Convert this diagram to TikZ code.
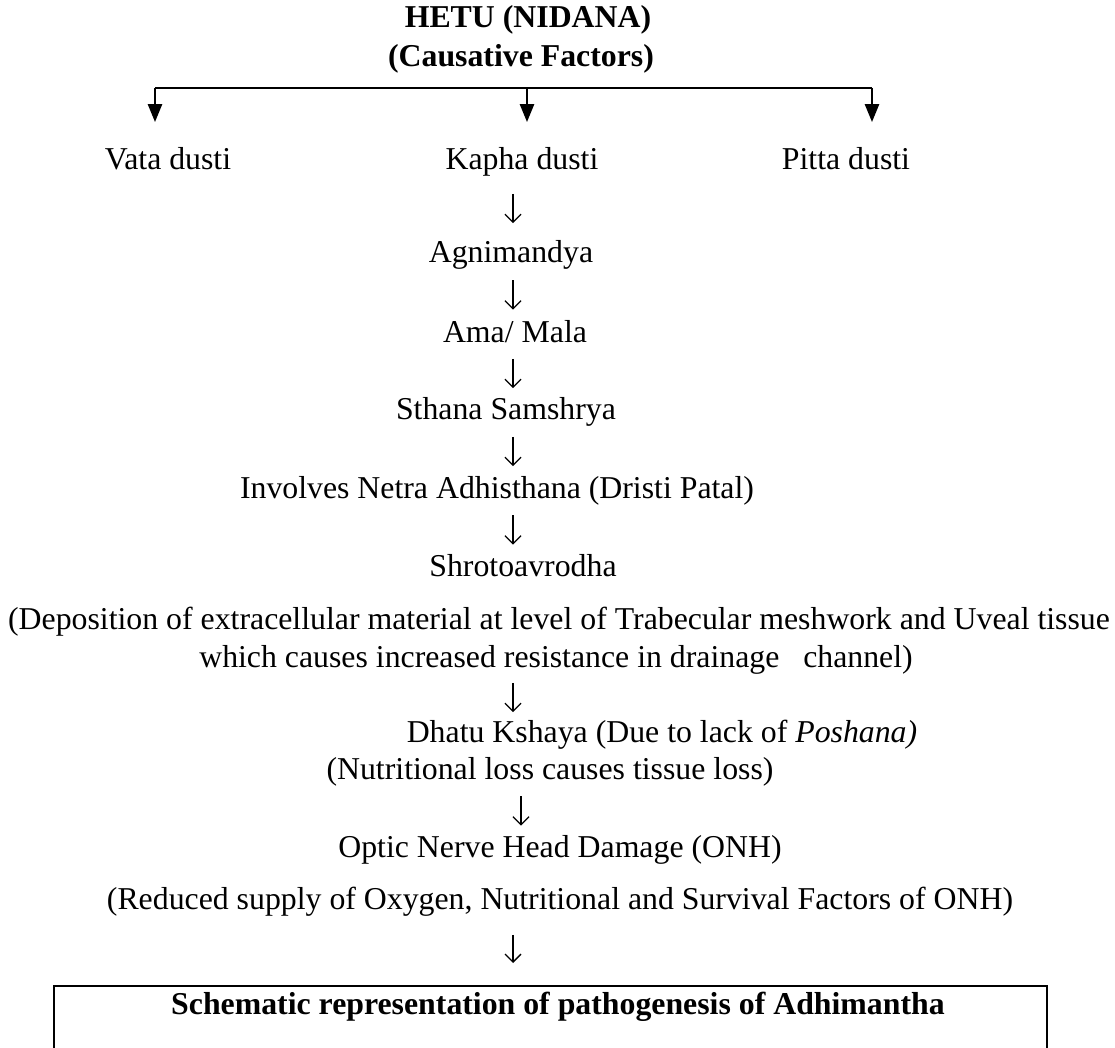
\documentclass[tikz,border=0pt]{standalone}
\usepackage{fontspec}
\setmainfont{Liberation Serif}
\usetikzlibrary{arrows.meta}
\tikzset{
  txt/.style={inner sep=0pt, text height=11pt, text depth=3.5pt, font=\fontsize{15.9}{19}\selectfont},
  btxt/.style={txt, font=\fontsize{15.9}{19}\selectfont\bfseries},
  bigarr/.style={line width=1.25pt, -{Triangle[length=9pt,width=7pt]}},
  darr/.style={line width=0.65pt, -{Straight Barb[length=4pt,width=8pt,line width=0.65pt]}, shorten <=#1, shorten >=#1},
}
\begin{document}
\begin{tikzpicture}[x=0.5pt,y=-0.5pt]
\clip (0,0) rectangle (1115,1048);
\fill[white] (0,0) rectangle (1115,1048);
% titles
\node[btxt] (hetu) at (528,20) {HETU (NIDANA)};
\node[btxt] (cause) at (521,59) {(Causative Factors)};
% branch bar
\coordinate (barL) at (155,88);
\coordinate (barM) at (527,88);
\coordinate (barR) at (872,88);
\draw[line width=1.25pt] (barL) -- (barR);
% dusti
\node[txt] (vata) at (168,162) {Vata dusti};
\node[txt] (kapha) at (522,162) {Kapha dusti};
\node[txt] (pitta) at (846,162) {Pitta dusti};
\draw[bigarr, shorten >=12.5pt] (barL) -- (barL |- vata.north);
\draw[bigarr, shorten >=12.5pt] (barM) -- (barM |- kapha.north);
\draw[bigarr, shorten >=12.5pt] (barR) -- (barR |- pitta.north);
% chain
\coordinate (ax) at (513,0);
\coordinate (bx) at (521,0);
\node[txt] (agni) at (511,255) {Agnimandya};
\node[txt] (ama) at (515,335) {Ama/ Mala};
\node[txt] (sthana) at (506,412) {Sthana Samshrya};
\node[txt] (netra) at (497,491) {Involves Netra Adhisthana (Dristi Patal)};
\node[txt] (shroto) at (523,569) {Shrotoavrodha};
\node[txt] (dep1) at (559,622) {(Deposition of extracellular material at level of Trabecular meshwork and Uveal tissue};
\node[txt] (dep2) at (556,660) {which causes increased resistance in drainage\ \ \ channel)};
\node[txt] (dh1) at (662,735) {Dhatu Kshaya (Due to lack of \textit{Poshana)}};
\node[txt] (dh2) at (550,772) {(Nutritional loss causes tissue loss)};
\node[txt] (onh) at (560,850) {Optic Nerve Head Damage (ONH)};
\node[txt] (red) at (560,902) {(Reduced supply of Oxygen, Nutritional and Survival Factors of ONH)};
\draw[darr=8.5pt] (kapha.south -| ax) -- (agni.north -| ax);
\draw[darr=5.25pt] (agni.south -| ax) -- (ama.north -| ax);
\draw[darr=4.5pt] (ama.south -| ax) -- (sthana.north -| ax);
\draw[darr=5pt] (sthana.south -| ax) -- (netra.north -| ax);
\draw[darr=4.75pt] (netra.south -| ax) -- (shroto.north -| ax);
\draw[darr=4pt] (dep2.south -| ax) -- (dh1.north -| ax);
\draw[darr=4.75pt] (dh2.south -| bx) -- (onh.north -| bx);
% box
\node[draw, line width=0.8pt, minimum width=993*0.5pt, minimum height=160*0.5pt, anchor=north west, inner sep=0pt] (box) at (53,985) {};
\node[btxt] (title) at (558,1007) {Schematic representation of pathogenesis of Adhimantha};
\draw[darr=9pt, shorten >=11pt] (red.south -| ax) -- (box.north -| ax);
\end{tikzpicture}
\end{document}
